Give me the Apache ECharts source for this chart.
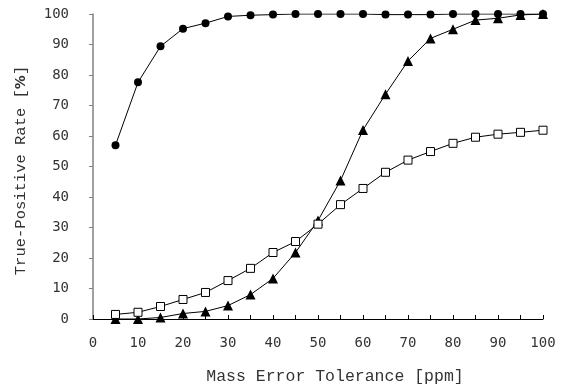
<!DOCTYPE html>
<html><head><meta charset="utf-8">
<script src="https://cdn.jsdelivr.net/npm/echarts@6/dist/echarts.min.js"></script>
<style>html,body{margin:0;padding:0;background:#fff}#c{width:563px;height:387px}</style>
</head><body><div id="c"></div>
<script>
const tolerance = [5,10,15,20,25,30,35,40,45,50,55,60,65,70,75,80,85,90,95,100];
const circleSeries = [57,77.6,89.4,95.2,97,99.2,99.6,99.8,100,100,100,100,99.8,99.8,99.8,100,100,100,100,100];
const triangleSeries = [0,0,0.5,1.8,2.5,4.4,8,13.3,21.8,32.3,45.4,62,73.7,84.6,92,95,98,98.6,99.7,100];
const squareSeries = [1.5,2.2,4.1,6.4,8.7,12.6,16.6,21.8,25.4,31.1,37.5,42.8,48.1,52.1,54.9,57.6,59.6,60.6,61.2,61.9];
const xTicks = [0,10,20,30,40,50,60,70,80,90,100];
const yTicks = [0,10,20,30,40,50,60,70,80,90,100];

const pair = vals => tolerance.map((x,i)=>[x, vals[i]]);
const chart = echarts.init(document.getElementById('c'));
const tickFont = {fontFamily:'DejaVu Sans Mono', fontSize:14, color:'#333'};
chart.setOption({
  animation:false,
  grid:{left:93,right:20,top:14,bottom:68,outerBoundsMode:'none',containLabel:false},
  xAxis:{type:'value',min:xTicks[0],max:xTicks[xTicks.length-1],interval:10,
    name:'Mass Error Tolerance [ppm]',nameLocation:'middle',nameGap:49,
    nameTextStyle:{fontFamily:'Liberation Mono',fontSize:16.5,color:'#333',padding:[0,0,0,34]},
    axisLine:{lineStyle:{color:'#000',width:1}},
    axisTick:{show:true,inside:true,length:4,lineStyle:{color:'#000'}},
    minorTick:{show:true,splitNumber:2,length:4,lineStyle:{color:'#000'}},
    splitLine:{show:false},
    axisLabel:Object.assign({margin:17},tickFont)},
  yAxis:{type:'value',min:yTicks[0],max:yTicks[yTicks.length-1],interval:10,
    name:'True-Positive Rate [{b|%}]',nameLocation:'middle',nameGap:64,
    nameTextStyle:{fontFamily:'Liberation Mono',fontSize:15.5,color:'#333',padding:[0,8,0,0],
      rich:{b:{fontFamily:'DejaVu Sans',fontWeight:'bold',fontSize:14,color:'#333'}}},
    axisLine:{show:true,lineStyle:{color:'#808080',width:1.5}},
    axisTick:{show:true,inside:false,length:4,lineStyle:{color:'#808080'}},
    splitLine:{show:false},
    axisLabel:Object.assign({margin:24},tickFont)},
  series:[
    {type:'line',data:pair(circleSeries),symbol:'circle',symbolSize:8,
      lineStyle:{color:'#000',width:1},itemStyle:{color:'#000'}},
    {type:'line',data:pair(triangleSeries),symbol:'triangle',symbolSize:10,
      lineStyle:{color:'#000',width:1},itemStyle:{color:'#000'}},
    {type:'line',data:pair(squareSeries),symbol:'rect',symbolSize:8,
      lineStyle:{color:'#000',width:1},itemStyle:{color:'#fff',borderColor:'#000',borderWidth:1}}
  ]
});
</script></body></html>
